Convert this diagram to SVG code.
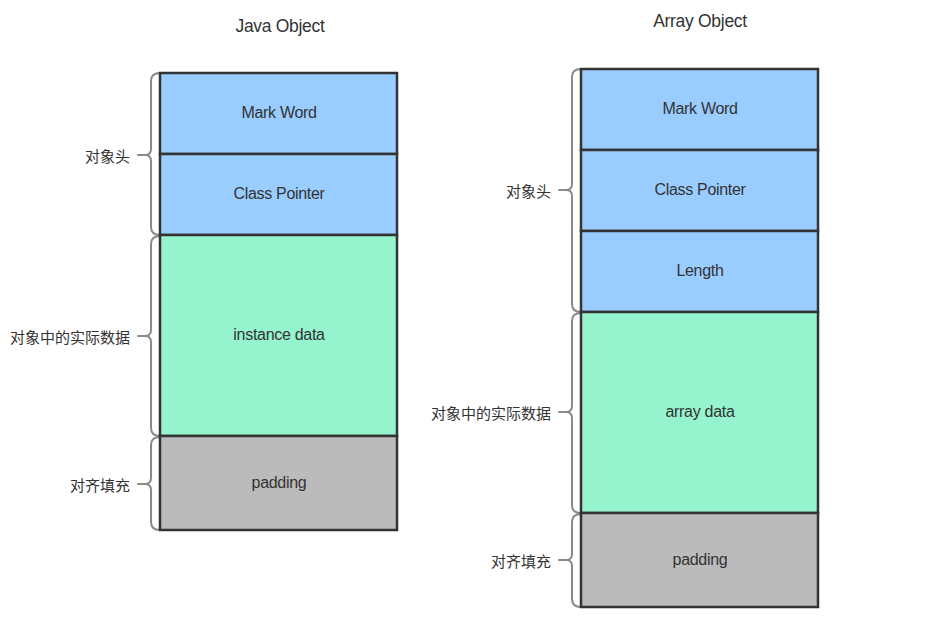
<svg xmlns="http://www.w3.org/2000/svg" width="952" height="623" viewBox="0 0 952 623">
<style>
.box{stroke:#333;stroke-width:2.5}
.blue{fill:#99CCFF}
.green{fill:#95F3CE}
.gray{fill:#BBBBBB}
.t{font-family:"Liberation Sans",Arial,sans-serif;font-size:16px;fill:#333;text-anchor:middle;dominant-baseline:central;letter-spacing:-0.3px}
.title{font-size:17.5px}
.lbl{font-family:"Liberation Sans","Noto Sans CJK SC",sans-serif;font-size:15px;fill:#333;text-anchor:end;dominant-baseline:central}
.brace{fill:none;stroke:#8a8a8a;stroke-width:2;stroke-linecap:round;stroke-linejoin:round}
</style>
<rect width="952" height="623" fill="#fff"/>
<text class="t title" x="280" y="26">Java Object</text>
<text class="t title" x="700" y="21">Array Object</text>

<g id="connectors">
<path class="brace" d="M160,73 Q151,73 151,81 L151,149 Q151,155 145,155 L138,155 M145,155 Q151,155 151,161 L151,227 Q151,235 160,235"/>
<path class="brace" d="M160,236 Q151,236 151,244 L151,330 Q151,336 145,336 L138,336 M145,336 Q151,336 151,342 L151,428 Q151,436 160,436"/>
<path class="brace" d="M160,437 Q151,437 151,445 L151,478 Q151,484 145,484 L138,484 M145,484 Q151,484 151,490 L151,522 Q151,530 160,530"/>
<path class="brace" d="M581,69 Q572,69 572,77 L572,184 Q572,190 566,190 L559,190 M566,190 Q572,190 572,196 L572,304 Q572,312 581,312"/>
<path class="brace" d="M581,313 Q572,313 572,321 L572,406 Q572,412 566,412 L559,412 M566,412 Q572,412 572,418 L572,505 Q572,513 581,513"/>
<path class="brace" d="M581,514 Q572,514 572,522 L572,554 Q572,560 566,560 L559,560 M566,560 Q572,560 572,566 L572,599 Q572,607 581,607"/>
</g>

<g id="java-mark-word"><rect class="box blue" x="160" y="73" width="237" height="81"/><text class="t" x="279" y="112">Mark Word</text></g>
<g id="java-class-pointer"><rect class="box blue" x="160" y="154" width="237" height="81"/><text class="t" x="279" y="193">Class Pointer</text></g>
<g id="java-instance-data"><rect class="box green" x="160" y="235" width="237" height="201"/><text class="t" x="279" y="334">instance data</text></g>
<g id="java-padding"><rect class="box gray" x="160" y="436" width="237" height="94"/><text class="t" x="279" y="482">padding</text></g>

<g id="java-label-header"><text class="lbl" x="130" y="156">对象头</text></g>
<g id="java-label-data"><text class="lbl" x="130" y="337">对象中的实际数据</text></g>
<g id="java-label-padding"><text class="lbl" x="130" y="485">对齐填充</text></g>

<g id="arr-mark-word"><rect class="box blue" x="581" y="69" width="237" height="81"/><text class="t" x="700" y="108">Mark Word</text></g>
<g id="arr-class-pointer"><rect class="box blue" x="581" y="150" width="237" height="81"/><text class="t" x="700" y="189">Class Pointer</text></g>
<g id="arr-length"><rect class="box blue" x="581" y="231" width="237" height="81"/><text class="t" x="700" y="270">Length</text></g>
<g id="arr-array-data"><rect class="box green" x="581" y="312" width="237" height="201"/><text class="t" x="700" y="411">array data</text></g>
<g id="arr-padding"><rect class="box gray" x="581" y="513" width="237" height="94"/><text class="t" x="700" y="559">padding</text></g>

<g id="arr-label-header"><text class="lbl" x="551" y="191">对象头</text></g>
<g id="arr-label-data"><text class="lbl" x="551" y="413">对象中的实际数据</text></g>
<g id="arr-label-padding"><text class="lbl" x="551" y="561">对齐填充</text></g>
</svg>
